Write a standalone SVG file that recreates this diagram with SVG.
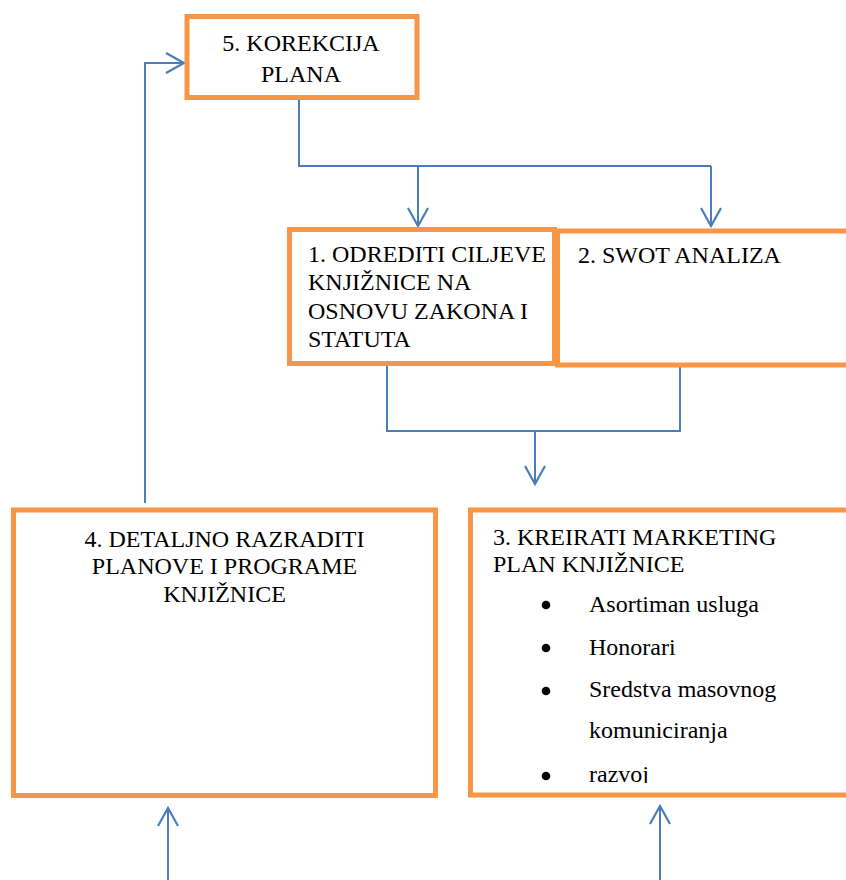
<svg xmlns="http://www.w3.org/2000/svg" width="846" height="880" viewBox="0 0 846 880">
<style>
.box{fill:#fff;stroke:#F79646;stroke-width:5}
.t{font-family:"Liberation Serif","Times New Roman",serif;font-size:24px;fill:#000}
.c{fill:none;stroke:#4A7EBB;stroke-width:2}
</style>
<defs>
<marker id="ah" markerUnits="userSpaceOnUse" markerWidth="24" markerHeight="24" viewBox="-20 -12 24 24" refX="0" refY="0" orient="auto">
<path d="M-18,-10 L0,0 L-18,10" fill="none" stroke="#4A7EBB" stroke-width="2.2"/>
</marker>
<clipPath id="clip3"><rect x="470" y="510" width="376" height="273"/></clipPath>
</defs>
<rect width="846" height="880" fill="#fff"/>
<g id="connectors">
<path class="c" d="M145,503 V63 H184" marker-end="url(#ah)"/>
<path class="c" d="M299,100 V166 H711"/>
<path class="c" d="M418,166 V226" marker-end="url(#ah)"/>
<path class="c" d="M711,166 V226" marker-end="url(#ah)"/>
<path class="c" d="M387,365 V431 H680 V365"/>
<path class="c" d="M535,431 V484" marker-end="url(#ah)"/>
<path class="c" d="M168,880 V808" marker-end="url(#ah)"/>
<path class="c" d="M660,880 V806" marker-end="url(#ah)"/>
</g>
<g id="node5">
<rect class="box" x="187" y="16.5" width="230" height="81"/>
<text class="t" x="301" y="51" text-anchor="middle">5. KOREKCIJA</text>
<text class="t" x="301" y="82" text-anchor="middle">PLANA</text>
</g>
<g id="node2">
<rect class="box" x="557.5" y="231" width="400" height="134"/>
<text class="t" x="578" y="263">2. SWOT ANALIZA</text>
</g>
<g id="node1">
<rect class="box" x="289.5" y="229.5" width="265" height="134"/>
<text class="t" x="308" y="262">1. ODREDITI CILJEVE</text>
<text class="t" x="308" y="290">KNJIŽNICE NA</text>
<text class="t" x="308" y="319">OSNOVU ZAKONA I</text>
<text class="t" x="308" y="347">STATUTA</text>
</g>
<g id="node4">
<rect class="box" x="13.5" y="510" width="422" height="285.5"/>
<text class="t" x="224.5" y="547" text-anchor="middle">4. DETALJNO RAZRADITI</text>
<text class="t" x="224.5" y="574" text-anchor="middle">PLANOVE I PROGRAME</text>
<text class="t" x="224.5" y="602" text-anchor="middle">KNJIŽNICE</text>
</g>
<g id="node3">
<rect class="box" x="470.5" y="510" width="400" height="285"/>
<text class="t" x="493" y="545">3. KREIRATI MARKETING</text>
<text class="t" x="493" y="572">PLAN KNJIŽNICE</text>
<g fill="#000">
<circle cx="546" cy="605" r="4.3"/>
<circle cx="546" cy="648" r="4.3"/>
<circle cx="546" cy="691" r="4.3"/>
<circle cx="546" cy="776" r="4.3"/>
</g>
<text class="t" x="589" y="612">Asortiman usluga</text>
<text class="t" x="589" y="655">Honorari</text>
<text class="t" x="589" y="697">Sredstva masovnog</text>
<text class="t" x="589" y="738">komuniciranja</text>
<text class="t" x="589" y="782" clip-path="url(#clip3)">razvoj</text>
</g>
</svg>
